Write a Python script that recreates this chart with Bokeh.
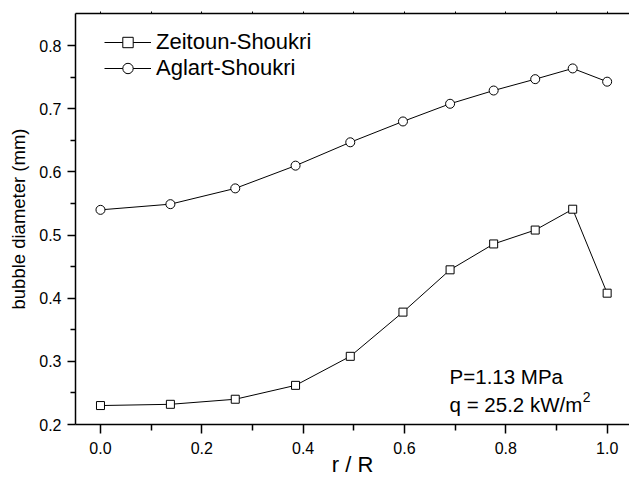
from bokeh.plotting import figure
from bokeh.models import (Range1d, LinearAxis, FixedTicker, Legend, LegendItem, Label,
                          PrintfTickFormatter)
from bokeh.embed import file_html
from bokeh.resources import INLINE

# ---- data ----
r_over_R = [0.0, 0.138, 0.266, 0.385, 0.493, 0.597, 0.690, 0.776, 0.858, 0.932, 1.0]
zeitoun_shoukri = [0.230, 0.232, 0.240, 0.262, 0.308, 0.378, 0.445, 0.486, 0.508, 0.541, 0.408]
aglart_shoukri = [0.540, 0.549, 0.574, 0.610, 0.647, 0.680, 0.708, 0.729, 0.747, 0.764, 0.743]
x_major = [0.0, 0.2, 0.4, 0.6, 0.8, 1.0]
x_minor = [0.1, 0.3, 0.5, 0.7, 0.9]
y_major = [0.2, 0.3, 0.4, 0.5, 0.6, 0.7, 0.8]
y_minor = [0.25, 0.35, 0.45, 0.55, 0.65, 0.75]
top_ticks = [0.0, 0.1, 0.2, 0.3, 0.4, 0.5, 0.6, 0.7, 0.8, 0.9, 1.0]

FONT = "Liberation Sans"

p = figure(width=629, height=479, output_backend="svg", toolbar_location=None,
           x_range=Range1d(-0.0493, 1.0441), y_range=Range1d(0.2, 0.851),
           min_border_left=75, min_border_right=0, min_border_top=13, min_border_bottom=55,
           x_axis_label="r / R", y_axis_label="bubble diameter (mm)")
p.grid.visible = False
p.outline_line_color = None
p.background_fill_color = "white"
p.border_fill_color = "white"

xa = p.xaxis[0]
xa.ticker = FixedTicker(ticks=x_major, minor_ticks=x_minor)
xa.formatter = PrintfTickFormatter(format="%.1f")
ya = p.yaxis[0]
ya.ticker = FixedTicker(ticks=y_major, minor_ticks=y_minor)
ya.formatter = PrintfTickFormatter(format="%.1f")
for ax in (xa, ya):
    ax.axis_line_width = 1.5
    ax.axis_line_color = "black"
    ax.major_tick_line_color = "black"
    ax.minor_tick_line_color = "black"
    ax.major_tick_line_width = 1.5
    ax.minor_tick_line_width = 1.5
    ax.major_tick_in = 0
    ax.minor_tick_in = 0
    ax.major_label_text_font = FONT
    ax.major_label_text_font_size = "16px"
    ax.major_label_text_color = "black"
    ax.axis_label_text_font = FONT
    ax.axis_label_text_font_style = "normal"
    ax.axis_label_text_color = "black"
xa.axis_label_text_font_size = "22px"
ya.axis_label_text_font_size = "18.5px"
xa.major_tick_out = 9
xa.minor_tick_out = 6
xa.major_label_standoff = 8
xa.axis_label_standoff = -5
ya.major_tick_out = 8
ya.minor_tick_out = 5
ya.major_label_standoff = 6
ya.axis_label_standoff = 7

top = LinearAxis(ticker=FixedTicker(ticks=top_ticks, minor_ticks=[]))
top.axis_line_width = 1.5
top.axis_line_color = "black"
top.major_tick_in = 0
top.major_tick_out = 2
top.major_tick_line_width = 1
top.major_label_overrides = {t: "" for t in top_ticks}
top.major_label_text_color = None
top.major_label_standoff = 0
p.add_layout(top, "above")

l1 = p.line(r_over_R, zeitoun_shoukri, line_color="black", line_width=1)
s1 = p.scatter(r_over_R, zeitoun_shoukri, marker="square", size=8,
               fill_color="white", line_color="black", line_width=1)
l2 = p.line(r_over_R, aglart_shoukri, line_color="black", line_width=1)
s2 = p.scatter(r_over_R, aglart_shoukri, marker="circle", size=9,
               fill_color="white", line_color="black", line_width=1)

legend = Legend(items=[LegendItem(label="Zeitoun-Shoukri", renderers=[l1, s1]),
                       LegendItem(label="Aglart-Shoukri", renderers=[l2, s2])],
                location=(29, 343), orientation="vertical")
legend.border_line_color = None
legend.background_fill_alpha = 0
legend.padding = 0
legend.margin = 0
legend.spacing = 0
legend.glyph_width = 47
legend.glyph_height = 26
legend.label_height = 26
legend.label_standoff = 5
legend.label_text_font = FONT
legend.label_text_font_size = "22px"
legend.label_text_color = "black"
legend.label_text_baseline = "middle"
p.add_layout(legend, "center")

ann1 = Label(x=0.689, y=0.2764, text="P=1.13 MPa", text_font=FONT,
             text_font_size="20.5px", text_color="black", text_baseline="alphabetic")
ann2 = Label(x=0.689, y=0.2322, text="q = 25.2 kW/m", text_font=FONT,
             text_font_size="20.5px", text_color="black", text_baseline="alphabetic")
ann3 = Label(x=0.952, y=0.2440, text="2", text_font=FONT,
             text_font_size="14px", text_color="black", text_baseline="alphabetic")
for a in (ann1, ann2, ann3):
    p.add_layout(a)

open("out.html", "w").write(file_html(p, INLINE))
